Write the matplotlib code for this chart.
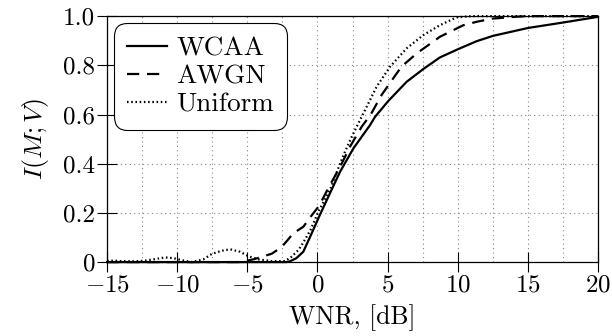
"""
Mutual information I(M;V) vs WNR for three attacks.
"""

import matplotlib
matplotlib.use("Agg")
import matplotlib.pyplot as plt
import numpy as np

# ── DATA ─────────────────────────────────────────────────────────────────────
wcaa_x = [-15, -2.2, -1.96, -1.5, -1.01, -0.41, 0.11, 0.77, 1.61, 2.56, 3.75, 4.1,
          5.05, 6.36, 7.55, 8.73, 10.04, 11.35, 12.53, 15.03, 17.52, 20]
wcaa_y = [0.0, 0.0, 0.003, 0.016, 0.042, 0.117, 0.184, 0.265, 0.367, 0.462, 0.557, 0.59,
          0.655, 0.733, 0.785, 0.832, 0.866, 0.898, 0.92, 0.952, 0.974, 0.997]

awgn_x = [-15, -5.5, -4.5, -3.26, -2.55, -1.72, -1.0, -0.41, 0.11, 0.89, 1.61, 2.32,
          3.15, 3.8, 4.58, 5.65, 6.0, 7.07, 8.73, 10.4, 11.35, 12.5, 14, 15, 20]
awgn_y = [0.0, 0.0, 0.012, 0.034, 0.061, 0.117, 0.144, 0.19, 0.228, 0.313, 0.387, 0.469,
          0.55, 0.60, 0.68, 0.767, 0.795, 0.848, 0.916, 0.963, 0.977, 0.99, 0.997, 1.0, 1.0]

unif_x = [-15, -14.5, -14, -13, -12.3, -11.7, -10.87, -10.27, -9.68, -8.97, -8.14, -7.54,
          -6.83, -6.23, -5.52, -4.93, -4.22, -3.26, -2.31, -1.84, -1.36, -1.12, -0.5, 0.11,
          0.89, 1.61, 1.96, 2.44, 3.03, 3.75, 4.22, 5.17, 6.36, 7.55, 8.73, 9.92, 11, 20]
unif_y = [0.005, 0.006, 0.004, 0.003, 0.006, 0.011, 0.019, 0.016, 0.008, 0.0, 0.011, 0.033,
          0.046, 0.052, 0.042, 0.024, 0.011, 0.004, 0.004, 0.022, 0.049, 0.069, 0.13, 0.21,
          0.293, 0.40, 0.448, 0.509, 0.577, 0.659, 0.713, 0.794, 0.869, 0.923, 0.963, 0.995, 1.0, 1.0]

x_ticks = [-15, -10, -5, 0, 5, 10, 15, 20]
y_ticks = [0, 0.2, 0.4, 0.6, 0.8, 1.0]
y_tick_labels = ["0", "0.2", "0.4", "0.6", "0.8", "1.0"]

# ── STYLE ────────────────────────────────────────────────────────────────────
plt.rcParams["font.family"] = "cmr10"
plt.rcParams["mathtext.fontset"] = "cm"
plt.rcParams["axes.formatter.use_mathtext"] = True
plt.rcParams["font.size"] = 18


def main():
    fig = plt.figure(figsize=(6.12, 3.36), dpi=100)
    ax = fig.add_axes([0.175, 0.22, 0.802, 0.732])

    kw = dict(color="black", linewidth=1.6, clip_on=False)
    ax.plot(wcaa_x, wcaa_y, label="WCAA", **kw)
    ax.plot(awgn_x, awgn_y, dashes=(5.5, 3.5), label="AWGN", **kw)
    ax.plot(unif_x, unif_y, dashes=(0.7, 1.2), label="Uniform", **kw)

    ax.set_xlim(-15, 20)
    ax.set_ylim(0, 1.0)
    ax.set_xticks(x_ticks)
    ax.set_xticks(np.arange(-12.5, 20, 5), minor=True)
    ax.set_yticks(y_ticks)
    ax.set_yticklabels(y_tick_labels)
    ax.tick_params(axis="both", which="major", direction="inout", length=15,
                   width=0.8, pad=1)
    ax.tick_params(axis="x", which="minor", length=0)
    ax.grid(which="both", axis="x", color="#888888", linestyle=(0, (1, 3)), linewidth=0.8)
    ax.grid(which="major", axis="y", color="#888888", linestyle=(0, (1, 3)), linewidth=0.8)
    for s in ax.spines.values():
        s.set_linewidth(0.9)

    ax.set_xlabel("WNR, [dB]", fontsize=18.5, labelpad=6)
    ax.set_ylabel(r"$I(M;V)$", fontsize=18.5, labelpad=9)

    leg = ax.legend(loc="upper left", fancybox=True, framealpha=1, edgecolor="black",
                    fontsize=19.5, handlelength=1.45, borderpad=0.45, labelspacing=0.15,
                    handletextpad=0.35, borderaxespad=0.3)
    leg.get_frame().set_linewidth(0.8)
    leg.get_frame().set_boxstyle("round", pad=0.05, rounding_size=0.5)

    fig.savefig("out.png", dpi=100)


if __name__ == "__main__":
    main()
